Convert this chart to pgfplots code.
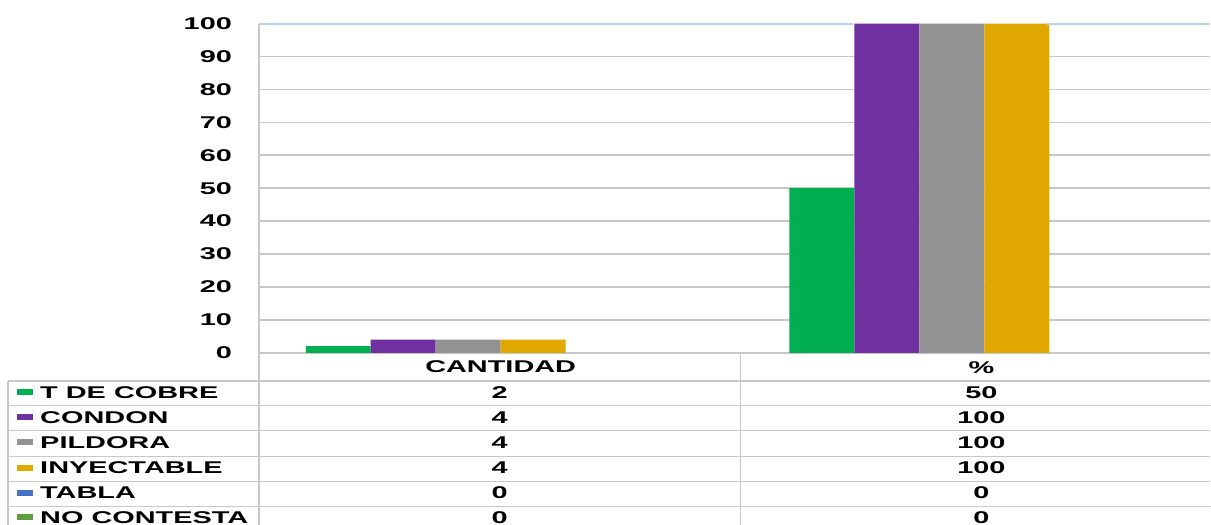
\documentclass[border=0pt]{standalone}
\usepackage{pgfplots}
\pgfplotsset{compat=1.18}
\usepackage{graphicx}
\usepackage{fontspec}
\setmainfont{Liberation Sans}
\newcommand{\T}[1]{\scalebox{1.7}[1]{#1}}
\newcommand{\lbl}{\fontsize{12.75}{14}\selectfont\bfseries}
\definecolor{cgreen}{HTML}{00B050}
\definecolor{cpurple}{HTML}{7030A0}
\definecolor{cgray}{HTML}{929292}
\definecolor{cgold}{HTML}{E0A800}
\definecolor{cblue}{HTML}{4472C4}
\definecolor{cgreen2}{HTML}{5E9E3C}
\definecolor{gridc}{HTML}{C8C8C8}
\definecolor{topc}{HTML}{B8D0EC}
\begin{document}
\begin{tikzpicture}
\begin{axis}[
  at={(0,0)}, anchor=south west,
  scale only axis, width=714pt, height=247pt,
  xmin=-0.5, xmax=1.467, ymin=0, ymax=100,
  ytick={0,10,...,90}, xtick=\empty,
  extra y ticks={100}, extra y tick style={grid=none},
  ymajorgrids, grid style={gridc, line width=1.2pt},
  axis line style={draw=none}, major tick length=0pt,
  /pgf/number format/assume math mode=true,
  yticklabel style={anchor=east, inner sep=0pt, xshift=-20pt, font=\lbl},
  yticklabel={\T{\pgfmathprintnumber{\tick}}},
  ybar=0pt, bar width=48.75pt,
  clip=false,
]
\addplot[fill=cgreen, draw=none] coordinates {(0,2) (1,50)};
\addplot[fill=cpurple, draw=none] coordinates {(0,4) (1,100)};
\addplot[fill=cgray, draw=none] coordinates {(0,4) (1,100)};
\addplot[fill=cgold, draw=none] coordinates {(0,4) (1,100)};
% TABLA and NO CONTESTA are 0: they keep their slots but show nothing
\addplot[fill=none, draw=none] coordinates {(0,0) (1,0)};
\addplot[fill=none, draw=none] coordinates {(0,0) (1,0)};
\end{axis}
% data table below the plot, in pixel units of the reference
\begin{scope}[shift={(-194.25pt,264.75pt)}, x=0.75pt, y=-0.75pt, font=\lbl]
\useasboundingbox (0,0) rectangle (1211,525);
\draw[topc, line width=1.2pt] (259,24) -- (854,24) (1048,24) -- (1211,24);
\draw[gridc, line width=1.2pt] (259,24) -- (259,525);
\draw[gridc, line width=1.2pt] (259,353.7) -- (1211,353.7);
\draw[gridc, line width=1.2pt] (741,353.7) -- (741,525);
\draw[gridc, line width=1.2pt] (8,381) -- (8,525);
\foreach \y in {381,405.7,430.7,456.7,481.7,507}
  \draw[gridc, line width=1.2pt] (8,\y) -- (1211,\y);
\node at (501,367) {\T{CANTIDAD}};
\node at (982,368) {\T{\%}};
\foreach \y/\c/\n/\a/\b in {392.5/cgreen/T DE COBRE/2/50,
    417.7/cpurple/CONDON/4/100, 442.7/cgray/PILDORA/4/100,
    468.3/cgold/INYECTABLE/4/100, 493.3/cblue/TABLA/0/0,
    517.5/cgreen2/NO CONTESTA/0/0}{
  \fill[\c] (17,\y-3) rectangle (33,\y+3);
  \node[anchor=west, inner sep=0pt] at (40,\y) {\T{\n}};
  \node at (500,\y) {\T{\a}};
  \node at (982,\y) {\T{\b}};
}
\end{scope}
\end{tikzpicture}
\end{document}
